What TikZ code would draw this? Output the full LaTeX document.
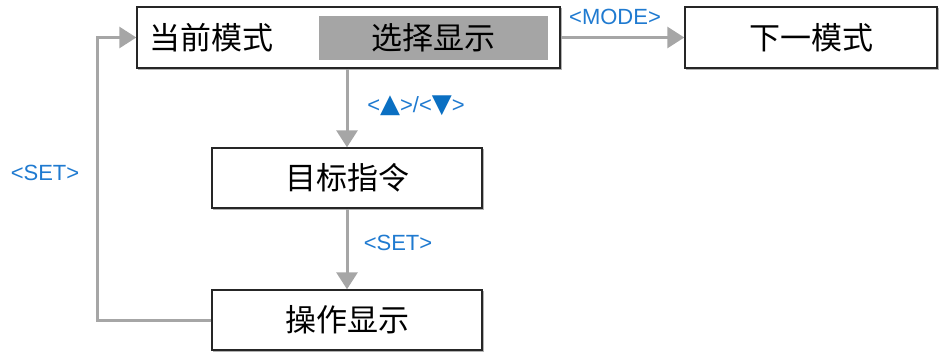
\documentclass[tikz,border=0pt]{standalone}
\usepackage{fontspec}
\newfontfamily\cjk{Noto Sans CJK SC}
\newfontfamily\lab{Liberation Sans}
\newfontfamily\sym{DejaVu Sans}
\usetikzlibrary{arrows.meta}
\definecolor{arrgray}{HTML}{A6A6A6}
\definecolor{labblue}{HTML}{1F7AD0}
\definecolor{boxgray}{HTML}{A5A5A5}
\definecolor{sym}{HTML}{0A6FC2}
\tikzset{
  box/.style={draw=black!85, line width=1.4pt, fill=white, inner sep=0pt,
    font=\cjk\fontsize{31}{36}\selectfont,
    preaction={draw=black!30, line width=1.3pt, transform canvas={xshift=1.5pt,yshift=-1.5pt}}},
  flow/.style={draw=arrgray, line width=3pt, -{Triangle[length=17pt,width=21pt]}},
  lbl/.style={text=labblue, font=\lab\fontsize{22}{26}\selectfont, inner sep=0pt},
  tri/.style={}
}
\newcommand{\trisym}[1]{{\sym\color{sym}\fontsize{26}{28}\selectfont #1}}
\begin{document}
\begin{tikzpicture}[x=1pt,y=-1pt]
\useasboundingbox (0,0) rectangle (947,356);
\node[box, minimum width=423pt, minimum height=61pt] (cur) at (348.5,37.5) {};
\node[fill=boxgray, minimum width=229pt, minimum height=44pt, inner sep=0pt,
  font=\cjk\fontsize{31}{36}\selectfont] (sel) at (433.5,38) {选择显示};
\node[anchor=west, inner sep=0pt, font=\cjk\fontsize{31}{36}\selectfont] (curt) at (149,38) {当前模式};
\node[box, minimum width=252pt, minimum height=61pt] (next) at (811,37.5) {下一模式};
\node[box, minimum width=270pt, minimum height=60pt] (tgt) at (347,178) {目标指令};
\node[box, minimum width=270pt, minimum height=60pt] (op) at (347,320) {操作显示};
\coordinate (loop) at (97,180);

\draw[flow] (cur.east) -- (next.west);
\draw[flow] (tgt.north |- cur.south) -- (tgt.north);
\draw[flow] (tgt.south) -- (op.north);
\draw[flow] (op.west) -| (loop) |- (cur.west);

\node[lbl] (lmode) at (615,17) {<MODE>};
\node[lbl] (lud) at (416,106) {<\trisym{▲}>/<\trisym{▼}>};
\node[lbl] (lset) at (398,243) {<SET>};
\node[lbl] (lset2) at (45,173) {<SET>};
\end{tikzpicture}
\end{document}
